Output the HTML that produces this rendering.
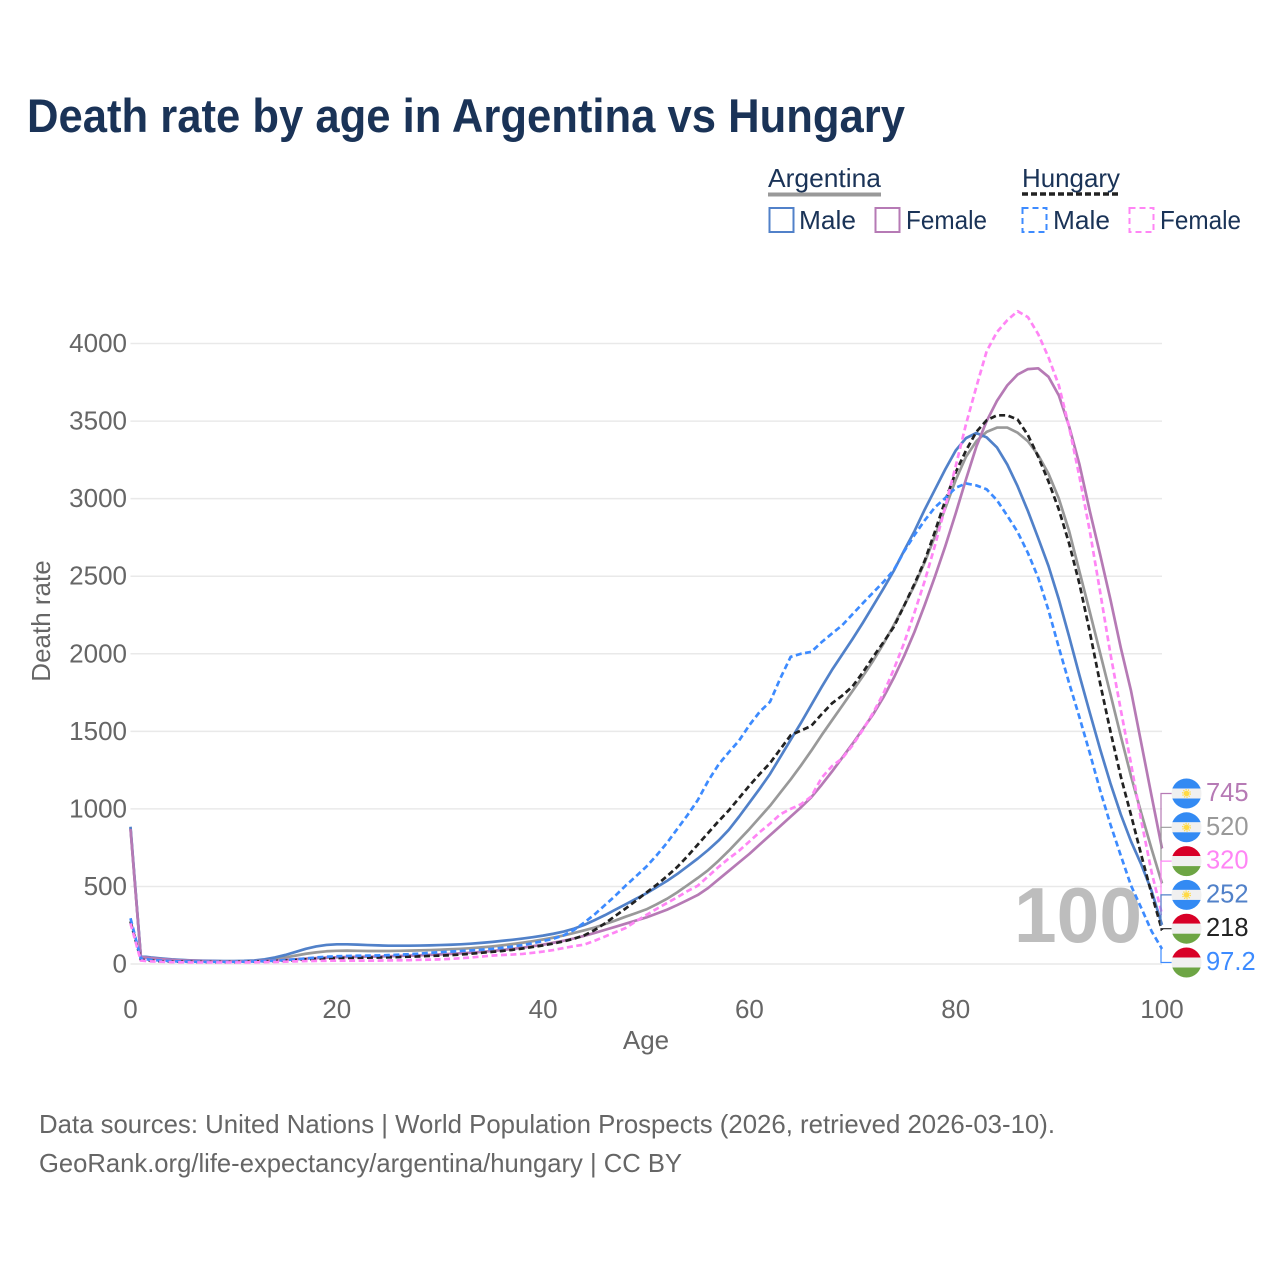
<!DOCTYPE html>
<html lang="en">
<head>
<meta charset="utf-8">
<title>Death rate by age in Argentina vs Hungary</title>
<style>
html,body{margin:0;padding:0;background:#fff;width:1280px;height:1280px;overflow:hidden}
svg{display:block;font-family:"Liberation Sans",sans-serif}
</style>
</head>
<body>
<svg id="chart" xmlns="http://www.w3.org/2000/svg" width="1280" height="1280" viewBox="0 0 1280 1280">
  <defs>
    <clipPath id="flag-clip"><circle cx="0" cy="0" r="15"></circle></clipPath>
  </defs>
  <rect x="0" y="0" width="1280" height="1280" fill="#fff"></rect>
  <text x="27" y="132" font-size="47" font-weight="700" fill="#1a3357" textLength="878" lengthAdjust="spacingAndGlyphs">Death rate by age in Argentina vs Hungary</text>

  <g font-size="26" fill="#1a3357">
    <text x="768" y="187" textLength="113" lengthAdjust="spacingAndGlyphs">Argentina</text>
    <line x1="768" y1="194.5" x2="881" y2="194.5" stroke="#999" stroke-width="4"></line>
    <text x="1022" y="187" textLength="98" lengthAdjust="spacingAndGlyphs">Hungary</text>
    <line x1="1022" y1="194" x2="1120" y2="194" stroke="#222" stroke-width="3.4" stroke-dasharray="6 3"></line>

    <rect x="769.5" y="208" width="24" height="24" fill="none" stroke="#5181c9" stroke-width="2"></rect>
    <text x="799" y="229" textLength="57" lengthAdjust="spacingAndGlyphs">Male</text>
    <rect x="875.5" y="208" width="24" height="24" fill="none" stroke="#b67ab5" stroke-width="2"></rect>
    <text x="906" y="229" textLength="81" lengthAdjust="spacingAndGlyphs">Female</text>
    <rect x="1022.5" y="208" width="24" height="24" fill="none" stroke="#3d8bff" stroke-width="2" stroke-dasharray="6 4"></rect>
    <text x="1053" y="229" textLength="57" lengthAdjust="spacingAndGlyphs">Male</text>
    <rect x="1129.5" y="208" width="24" height="24" fill="none" stroke="#ff85f5" stroke-width="2" stroke-dasharray="6 4"></rect>
    <text x="1160" y="229" textLength="81" lengthAdjust="spacingAndGlyphs">Female</text>
  </g>

  <g id="grid"></g>
  <g id="y-ticks"></g>
  <g id="x-ticks"></g>
  <text transform="translate(50,621) rotate(-90)" text-anchor="middle" font-size="26" fill="#666">Death rate</text>
  <text x="646" y="1049" text-anchor="middle" font-size="26" fill="#666">Age</text>
  <text id="age-readout" x="1014" y="942" font-size="78" font-weight="700" fill="#bdbdbd" textLength="128" lengthAdjust="spacingAndGlyphs">100</text>
  <g id="series"></g>
  <g id="end-labels"></g>

  <text x="39" y="1133" font-size="26" fill="#666" textLength="1016" lengthAdjust="spacingAndGlyphs">Data sources: United Nations | World Population Prospects (2026, retrieved 2026-03-10).</text>
  <text x="39" y="1172" font-size="26" fill="#666" textLength="643" lengthAdjust="spacingAndGlyphs">GeoRank.org/life-expectancy/argentina/hungary | CC BY</text>
</svg>

<script>
var yTickValues = [0, 500, 1000, 1500, 2000, 2500, 3000, 3500, 4000];
var xTickValues = [0, 20, 40, 60, 80, 100];

var argentinaTotal = [875,47,40,34,28,25,22,20,19,18,18,18,20,25,32,42,54,66,75,82,85,86,85,84,84,84,85,86,88,90,92,95,98,102,107,113,120,128,137,147,158,170,184,200,217,235,257,280,305,328,352,385,420,462,508,555,605,665,730,800,870,945,1020,1105,1190,1280,1375,1475,1570,1665,1760,1855,1955,2065,2185,2310,2440,2590,2760,2940,3120,3270,3370,3430,3458,3458,3425,3370,3280,3160,3000,2790,2530,2270,2005,1740,1470,1210,970,740,520];
var argentinaMale = [885,50,42,36,30,26,23,21,20,19,19,20,23,30,42,58,78,98,113,123,127,127,125,122,120,118,118,118,119,120,122,124,127,131,136,142,149,156,164,173,183,195,209,228,252,283,315,350,385,420,455,495,535,580,630,680,735,795,865,950,1040,1130,1225,1335,1445,1555,1670,1785,1895,1995,2095,2200,2310,2420,2535,2665,2790,2930,3060,3190,3310,3390,3423,3395,3330,3220,3080,2920,2745,2565,2350,2110,1860,1620,1385,1165,965,790,640,470,252];
var argentinaFemale = [870,45,38,32,27,23,21,19,18,17,17,17,18,20,23,27,31,35,38,41,43,45,46,47,48,50,52,54,56,59,62,65,69,73,78,84,90,97,105,115,125,137,150,165,182,200,220,240,260,280,300,325,350,380,412,445,490,545,600,655,710,770,830,890,950,1010,1075,1155,1240,1330,1420,1515,1610,1720,1845,1985,2140,2315,2500,2695,2905,3125,3335,3500,3630,3730,3800,3835,3840,3785,3665,3465,3220,2920,2640,2350,2040,1760,1420,1080,745];
var hungaryTotal = [275,28,22,18,16,15,14,13,13,13,13,14,15,17,19,22,26,30,33,36,38,39,40,41,42,43,45,47,49,52,54,57,61,66,72,78,84,91,100,110,120,132,146,163,185,219,262,310,358,408,460,510,565,625,695,770,845,920,990,1070,1150,1225,1295,1385,1475,1505,1535,1610,1680,1730,1790,1880,1980,2075,2173,2310,2450,2600,2790,2990,3170,3310,3430,3505,3537,3537,3510,3410,3270,3110,2930,2710,2450,2140,1810,1500,1210,960,700,450,218];
var hungaryMale = [295,35,27,22,18,16,15,14,14,14,14,15,16,18,21,25,30,36,42,47,50,52,53,54,55,57,60,63,67,72,76,80,84,88,92,97,104,112,122,134,148,163,185,220,268,320,380,440,505,565,627,700,780,870,960,1057,1180,1285,1365,1440,1540,1626,1690,1842,1980,2000,2012,2075,2130,2184,2255,2326,2395,2463,2540,2660,2765,2860,2945,3005,3070,3098,3085,3060,2990,2890,2785,2650,2490,2280,2040,1810,1590,1360,1120,900,700,505,360,210,97.2];
var hungaryFemale = [262,22,17,14,12,11,10,10,10,10,10,10,11,12,13,15,17,19,20,21,22,22,22,22,22,23,24,25,27,28,30,33,37,42,48,54,58,61,65,72,80,90,103,115,125,150,177,205,232,275,316,355,393,430,470,505,565,625,680,730,790,850,905,965,1000,1030,1080,1200,1275,1325,1410,1510,1620,1745,1900,2070,2265,2470,2700,2950,3210,3480,3720,3950,4074,4150,4208,4170,4060,3910,3730,3460,3140,2790,2400,2000,1640,1290,920,590,320];

var endLabelValues = ["745", "520", "320", "252", "218", "97.2"];

var NS = 'http://www.w3.org/2000/svg';
var X0 = 130.5, X100 = 1162, Y0 = 964, Y4000 = 343.5;
function xScale(age) { return X0 + (X100 - X0) * age / 100; }
function yScale(v) { return Y0 - (Y0 - Y4000) * v / 4000; }
function make(tag, attrs, parent) {
  var el = document.createElementNS(NS, tag);
  for (var k in attrs) el.setAttribute(k, attrs[k]);
  parent.appendChild(el);
  return el;
}

var gridG = document.getElementById('grid');
var yG = document.getElementById('y-ticks');
var xG = document.getElementById('x-ticks');
yTickValues.forEach(function (v) {
  var line = make('line', {x1: X0, x2: X100, y1: yScale(v), y2: yScale(v), stroke: '#e9e9e9', 'stroke-width': 1.5}, gridG);
  
  
  var t = make('text', {x: 127, y: yScale(v) + 8.5, 'text-anchor': 'end', 'font-size': 26, fill: '#666'}, yG);
  
  
  t.textContent = String(v);
});
xTickValues.forEach(function (v) {
  var t = make('text', {x: xScale(v), y: 1018, 'text-anchor': 'middle', 'font-size': 26, fill: '#666'}, xG);
  
  
  t.textContent = String(v);
});

var seriesList = [
  {key: 'argentina-total', values: argentinaTotal, color: '#999999', dash: '', width: 2.7, country: 'ar'},
  {key: 'argentina-male', values: argentinaMale, color: '#5181c9', dash: '', width: 2.7, country: 'ar'},
  {key: 'argentina-female', values: argentinaFemale, color: '#b67ab5', dash: '', width: 2.7, country: 'ar'},
  {key: 'hungary-total', values: hungaryTotal, color: '#222222', dash: '6 3.5', width: 2.7, country: 'hu'},
  {key: 'hungary-male', values: hungaryMale, color: '#3d8bff', dash: '6 3.5', width: 2.7, country: 'hu'},
  {key: 'hungary-female', values: hungaryFemale, color: '#ff85f5', dash: '6 3.5', width: 2.7, country: 'hu'}
];

var seriesG = document.getElementById('series');
seriesList.forEach(function (s) {
  var pts = s.values.map(function (v, i) { return xScale(i).toFixed(2) + ',' + yScale(v).toFixed(2); }).join(' ');
  var attrs = {points: pts, fill: 'none', stroke: s.color, 'stroke-width': s.width, 'stroke-linejoin': 'round'};
  if (s.dash) attrs['stroke-dasharray'] = s.dash;
  var line = make('polyline', attrs, seriesG);
  
  
});

var labelOrder = [
  {idx: 2, text: endLabelValues[0]},
  {idx: 0, text: endLabelValues[1]},
  {idx: 5, text: endLabelValues[2]},
  {idx: 1, text: endLabelValues[3]},
  {idx: 3, text: endLabelValues[4]},
  {idx: 4, text: endLabelValues[5]}
];

var labelsG = document.getElementById('end-labels');
labelOrder.forEach(function (item, i) {
  var s = seriesList[item.idx];
  var cy = 793.5 + i * 33.8;
  var endVal = s.values[s.values.length - 1];
  var conn = make('path', {d: 'M' + X100 + ' ' + yScale(endVal).toFixed(1) + 'H1161V' + cy.toFixed(1) + 'H1172', fill: 'none', stroke: s.color, 'stroke-width': 1.2}, labelsG);
  
  

  var flag = make('g', {transform: 'translate(1186.5,' + cy.toFixed(1) + ')', 'clip-path': 'url(#flag-clip)'}, labelsG);
  
  
  var top = s.country === 'ar' ? '#338af3' : '#d80027';
  var bottom = s.country === 'ar' ? '#338af3' : '#6da544';
  make('rect', {x: -16, y: -16, width: 32, height: 11, fill: top}, flag);
  make('rect', {x: -16, y: -5, width: 32, height: 10, fill: '#f0f0f0'}, flag);
  make('rect', {x: -16, y: 5, width: 32, height: 11, fill: bottom}, flag);
  if (s.country === 'ar') {
    make('circle', {cx: 0, cy: 0, r: 2.8, fill: '#ffda44'}, flag);
    make('circle', {cx: 0, cy: 0, r: 3.8, fill: 'none', stroke: '#ffda44', 'stroke-width': 1.4, 'stroke-dasharray': '1.2 1.2'}, flag);
  }

  var t = make('text', {x: 1206, y: (cy + 7.5).toFixed(1), 'font-size': 25.5, fill: s.color}, labelsG);
  
  
  t.textContent = item.text;
});
</script>
</body>
</html>
